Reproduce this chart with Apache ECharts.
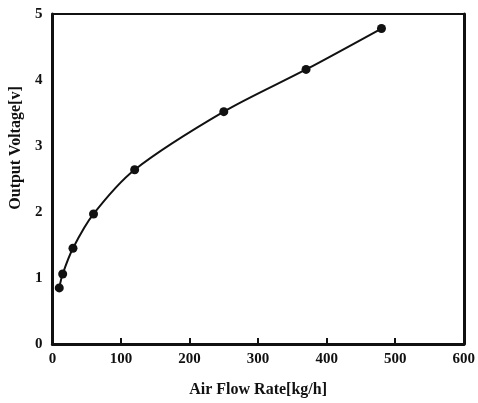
<!DOCTYPE html>
<html>
<head>
<meta charset="utf-8">
<script src="https://cdn.jsdelivr.net/npm/echarts@6/dist/echarts.min.js"></script>
<style>
  html, body { margin: 0; padding: 0; background: #fff; }
  #chart { width: 478px; height: 403px; }
</style>
</head>
<body>
<div id="chart"></div>
<script>
// 风量 kg/h 和输出电压 V
var flowRate = [10, 15, 30, 60, 120, 250, 370, 480];
var outputVoltage = [0.85, 1.06, 1.45, 1.97, 2.64, 3.52, 4.16, 4.78];
var xTicks = [0, 100, 200, 300, 400, 500, 600];
var yTicks = [0, 1, 2, 3, 4, 5];

var chart = echarts.init(document.getElementById("chart"));
var font = "Liberation Serif";

chart.setOption({
  animation: false,
  grid: {
    left: 49,
    right: 11,
    top: 14,
    bottom: 54
  },
  xAxis: [
    {
      type: "value",
      min: xTicks[0],
      max: xTicks[xTicks.length - 1],
      interval: 100,
      name: "Air Flow Rate[kg/h]",
      nameLocation: "middle",
      nameGap: 38,
      nameTextStyle: { fontFamily: font, fontWeight: "bold", fontSize: 16, color: "#111" },
      axisLine: { onZero: false, lineStyle: { color: "#111", width: 3 } },
      axisTick: { inside: true, length: 6, lineStyle: { color: "#111", width: 2 } },
      axisLabel: { fontFamily: font, fontWeight: "bold", fontSize: 15, color: "#111", margin: 8 },
      splitLine: { show: false }
    },
    {
      // 上边框
      type: "value",
      position: "top",
      min: 0,
      max: 600,
      axisLine: { show: true, onZero: false, lineStyle: { color: "#111", width: 2 } },
      axisTick: { show: false },
      axisLabel: { show: false },
      splitLine: { show: false }
    }
  ],
  yAxis: [
    {
      type: "value",
      min: yTicks[0],
      max: yTicks[yTicks.length - 1],
      interval: 1,
      name: "Output Voltage[v]",
      nameLocation: "middle",
      nameGap: 28,
      nameTextStyle: { fontFamily: font, fontWeight: "bold", fontSize: 16, color: "#111", padding: [0, 0, 0, 62] },
      axisLine: { show: true, onZero: false, lineStyle: { color: "#111", width: 3 } },
      axisTick: { show: false },
      axisLabel: { fontFamily: font, fontWeight: "bold", fontSize: 15, color: "#111", margin: 10 },
      splitLine: { show: false }
    },
    {
      // 右边框
      type: "value",
      position: "right",
      min: 0,
      max: 5,
      axisLine: { show: true, onZero: false, lineStyle: { color: "#111", width: 3 } },
      axisTick: { show: false },
      axisLabel: { show: false },
      splitLine: { show: false }
    }
  ],
  series: [
    {
      type: "line",
      data: flowRate.map(function (x, i) { return [x, outputVoltage[i]]; }),
      smooth: 0.3,
      symbol: "circle",
      symbolSize: 9,
      itemStyle: { color: "#111" },
      lineStyle: { color: "#111", width: 2 }
    }
  ]
});
</script>
</body>
</html>
